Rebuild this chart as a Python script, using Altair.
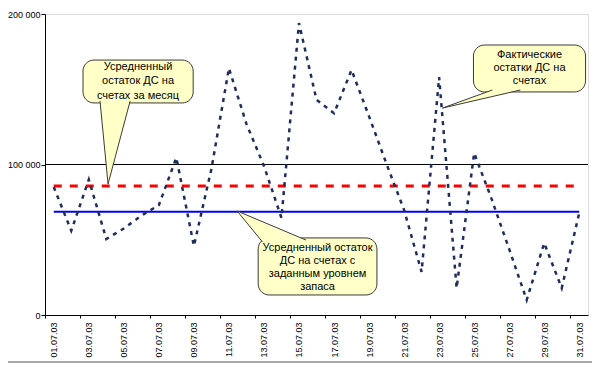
import json
import altair as alt
import pandas as pd

# ---- data ----
days = list(range(1, 32))
actual = [85000, 56000, 90000, 50500, 57500, 66000, 73000, 104500, 45900, 97000,
          164000, 127000, 99000, 64500, 194000, 143000, 134000, 162800, 132000, 100300,
          69800, 28600, 158000, 17900, 107600, 77000, 43800, 10000, 47800, 17900, 67800]
avg_month = 85700
avg_reserve = 68600
grid_value = 100000
date_labels = ["01.07.03", "03.07.03", "05.07.03", "07.07.03", "09.07.03", "11.07.03",
               "13.07.03", "15.07.03", "17.07.03", "19.07.03", "21.07.03", "23.07.03",
               "25.07.03", "27.07.03", "29.07.03", "31.07.03"]
y_ticks = [0, 100000, 200000]
y_labels = ["0", "100 000", "200 000"]

callout_text = [
    ["Усредненный", "остаток ДС на", "счетах за месяц"],
    ["Фактические", "остатки ДС на", "счетах"],
    ["Усредненный остаток", "ДС на счетах с", "заданным уровнем", "запаса"],
]
# annotation geometry in data units (day, value)
box_x1 = [2.67, 24.96, 12.67]
box_x2 = [8.96, 31.36, 19.45]
box_y1 = [140900, 148200, 13300]
box_y2 = [169400, 179400, 51200]
text_x = [5.81, 28.16, 16.06]
text_y = [164800, 172800, 44500]   # first line of each callout
line_h = [14.5, 13, 13]
wedge_id = [0, 0, 0, 1, 1, 1, 2, 2, 2]
wedge_ord = [0, 1, 2, 0, 1, 2, 0, 1, 2]
wedge_x = [3.64, 4.10, 5.36, 26.04, 23.19, 27.64, 12.92, 11.47, 15.40]
wedge_y = [142200, 87000, 142200, 149500, 137500, 149500, 48500, 69100, 49800]

FONT = "Liberation Sans"
x_scale = alt.Scale(domain=[0.5, 31.5], nice=False, zero=False)
y_scale = alt.Scale(domain=[0, 200000], nice=False)

x_axis = alt.Axis(
    values=[0.5 + 2 * i for i in range(len(date_labels))],
    labelExpr=json.dumps(date_labels) + "[round((datum.value-0.5)/2)]",
    labelAngle=-90, labelOffset=8.75, tickSize=3, labelPadding=4,
    domainColor="black", tickColor="black", labelColor="black",
    labelFont=FONT, labelFontSize=9, title=None, grid=False,
    labelFlush=False, labelOverlap=False, labelBound=False,
)
y_axis = alt.Axis(
    values=y_ticks,
    labelExpr=json.dumps(y_labels) + "[round(datum.value/100000)]",
    tickSize=4, labelPadding=1, domainColor="black", tickColor="black",
    labelColor="black", labelFont=FONT, labelFontSize=9, title=None, grid=False,
    labelOverlap=False,
)


def X(field, **kw):
    return alt.X(field, scale=x_scale, title=None, axis=x_axis, **kw)


def Y(field, **kw):
    return alt.Y(field, scale=y_scale, title=None, axis=y_axis, **kw)


grid = alt.Chart(pd.DataFrame({"v": [grid_value]})).mark_rule(
    color="black", strokeWidth=1
).encode(y=Y("v:Q"))

df = pd.DataFrame({"day": days, "value": actual})
actual_line = alt.Chart(df).mark_line(
    color="#1f2d5c", strokeWidth=2.5, strokeDash=[4, 5]
).encode(x=X("day:Q"), y=Y("value:Q"))

avg_df = pd.DataFrame({"x1": [days[0], days[0]], "x2": [days[-1], days[-1]],
                       "v": [avg_month, avg_reserve], "k": ["m", "r"]})
red_rule = alt.Chart(avg_df[avg_df.k == "m"]).mark_rule(
    color="#ff0000", strokeWidth=3, strokeDash=[8, 8]
).encode(x=X("x1:Q"), x2="x2:Q", y=Y("v:Q"))
blue_rule = alt.Chart(avg_df[avg_df.k == "r"]).mark_rule(
    color="#0000ff", strokeWidth=2
).encode(x=X("x1:Q"), x2="x2:Q", y=Y("v:Q"))

box_df = pd.DataFrame({"x1": box_x1, "x2": box_x2, "y1": box_y1, "y2": box_y2})
boxes = alt.Chart(box_df).mark_rect(
    fill="#ffffc8", stroke="#3a3a3a", strokeWidth=1, cornerRadius=11
).encode(x=X("x1:Q"), x2="x2:Q", y=Y("y1:Q"), y2="y2:Q")

wedge_df = pd.DataFrame({"id": wedge_id, "o": wedge_ord, "x": wedge_x, "y": wedge_y})
wedges = alt.Chart(wedge_df).mark_line(
    fill="#ffffc8", stroke="#3a3a3a", strokeWidth=1, interpolate="linear"
).encode(x=X("x:Q"), y=Y("y:Q"), order="o:Q", detail="id:N")

text_layers = []
for i in range(len(callout_text)):
    tdf = pd.DataFrame({"x": [text_x[i]], "y": [text_y[i]]})
    text_layers.append(
        alt.Chart(tdf).mark_text(
            text=callout_text[i], font=FONT, fontSize=11, color="black",
            align="center", baseline="middle", lineHeight=line_h[i],
        ).encode(x=X("x:Q"), y=Y("y:Q"))
    )

bottom_line = alt.Chart(pd.DataFrame({"a": [0]})).mark_rule(
    color="#a8a8a8", strokeWidth=2
).encode(x=alt.value(-37), x2=alt.value(550), y=alt.value(348))

chart = alt.layer(
    grid, blue_rule, red_rule, actual_line, boxes, wedges,
    *text_layers, bottom_line
).properties(
    width=543, height=301,
    padding={"left": 37, "top": 6, "right": 4, "bottom": 48},
    autosize=alt.AutoSizeParams(type="none"),
).configure_view(
    stroke="#a0a0a0", strokeWidth=1
).configure_axis(
    labelOverlap=False
).configure(background="white")

chart.save("out.html", embed_options={"renderer": "svg", "actions": False})
